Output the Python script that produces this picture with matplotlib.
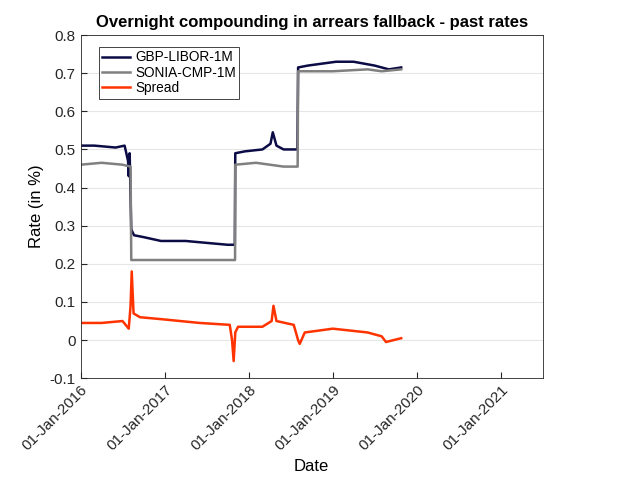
import matplotlib
matplotlib.use("Agg")
import matplotlib.pyplot as plt
import pandas as pd

plt.rcParams['font.family'] = ['Liberation Sans', 'DejaVu Sans']

libor_dates = ["2016-01-01","2016-03-01","2016-06-01","2016-07-10","2016-07-25","2016-07-28","2016-08-01","2016-08-08","2016-08-20","2016-10-01",
               "2016-12-15","2017-04-01","2017-07-01","2017-10-01","2017-11-01","2017-11-03","2017-12-15","2018-03-01","2018-04-05",
               "2018-04-15","2018-05-01","2018-06-01","2018-07-31","2018-08-03","2018-09-15","2019-01-15","2019-04-01","2019-07-01","2019-09-01","2019-10-25"]
libor_vals = [0.51,0.51,0.505,0.51,0.47,0.43,0.49,0.29,0.275,0.27,
              0.26,0.26,0.255,0.25,0.25,0.49,0.495,0.50,0.515,
              0.545,0.51,0.50,0.50,0.715,0.72,0.73,0.73,0.72,0.71,0.715]

sonia_dates = ["2016-01-01","2016-04-01","2016-07-01","2016-08-05","2016-08-08","2016-12-01","2017-06-01","2017-11-02","2017-11-03",
               "2018-02-01","2018-06-01","2018-08-01","2018-08-03","2019-01-01","2019-06-01","2019-08-01","2019-10-25"]
sonia_vals = [0.46,0.465,0.46,0.455,0.21,0.21,0.21,0.21,0.46,
              0.465,0.455,0.455,0.705,0.705,0.71,0.705,0.71]

spread_dates = ["2016-01-01","2016-04-01","2016-07-01","2016-07-28","2016-08-05","2016-08-10","2016-08-18","2016-09-15","2016-12-15","2017-06-01",
                "2017-10-10","2017-10-20","2017-10-27","2017-11-03","2017-11-15","2018-03-01","2018-04-10","2018-04-18","2018-05-01","2018-07-15",
                "2018-08-03","2018-08-10","2018-09-01","2019-01-01","2019-06-01","2019-08-01","2019-08-20","2019-10-25"]
spread_vals = [0.045,0.045,0.05,0.03,0.09,0.18,0.07,0.06,0.055,0.045,
               0.04,0.0,-0.055,0.02,0.035,0.035,0.05,0.09,0.05,0.04,
               0.0,-0.01,0.02,0.03,0.02,0.01,-0.005,0.005]

fig, ax = plt.subplots(figsize=(6.4, 4.8), dpi=100)
fig.subplots_adjust(left=0.126, right=0.848, top=0.927, bottom=0.212)
ax.plot(pd.to_datetime(libor_dates), libor_vals, color='#0b0b45', lw=1.8, label='GBP-LIBOR-1M')
ax.plot(pd.to_datetime(sonia_dates), sonia_vals, color='#808080', lw=1.8, label='SONIA-CMP-1M')
ax.plot(pd.to_datetime(spread_dates), spread_vals, color='#ff3300', lw=1.8, label='Spread')

ax.set_xlim(pd.Timestamp("2016-01-01"), pd.Timestamp("2021-07-01"))
ax.set_ylim(-0.1, 0.8)
ax.set_yticks([-0.1,0,0.1,0.2,0.3,0.4,0.5,0.6,0.7,0.8])
ax.set_yticklabels(['-0.1','0','0.1','0.2','0.3','0.4','0.5','0.6','0.7','0.8'])
ticks = pd.to_datetime(["2016-01-01","2017-01-01","2018-01-01","2019-01-01","2020-01-01","2021-01-01"])
ax.set_xticks(ticks)
ax.set_xticklabels([t.strftime('%d-%b-%Y') for t in ticks], rotation=45, ha='right', rotation_mode='anchor')
ax.grid(axis='y', color='#e6e6e6', lw=0.8)
ax.set_axisbelow(True)
for s in ax.spines.values():
    s.set_color('#262626'); s.set_linewidth(0.6)
ax.tick_params(labelsize=11, colors='#262626', direction='in', length=4)
ax.set_xlabel('Date', fontsize=12)
ax.set_ylabel('Rate (in %)', fontsize=12)
ax.set_title('Overnight compounding in arrears fallback - past rates', fontsize=12, fontweight='bold')
leg = ax.legend(loc='upper left', fontsize=9.8, fancybox=False, edgecolor='#262626', framealpha=1,
                borderpad=0.25, labelspacing=0.1, handlelength=2.0, handletextpad=0.4,
                bbox_to_anchor=(0.025, 0.985))
leg.get_frame().set_linewidth(0.6)
fig.savefig('out.png', dpi=100)
